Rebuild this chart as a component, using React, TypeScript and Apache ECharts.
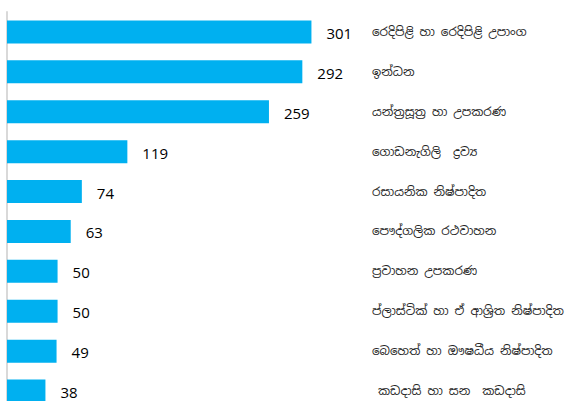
import React, { useEffect, useRef } from "react";
import * as echarts from "echarts";

const categories = [
  "රෙදිපිළි හා රෙදිපිළි උපාංග",
  "ඉන්ධන",
  "යන්ත්‍රසූත්‍ර හා උපකරණ",
  "ගොඩනැගිලි  ද්‍රව්‍ය",
  "රසායනික නිෂ්පාදිත",
  "පෞද්ගලික රථවාහන",
  "ප්‍රවාහන උපකරණ",
  "ප්ලාස්ටික් හා ඒ ආශ්‍රිත නිෂ්පාදිත",
  "බෙහෙත් හා ඖෂධීය නිෂ්පාදිත",
  " කඩදාසි හා සන  කඩදාසි",
];
const values = [301, 292, 259, 119, 74, 63, 50, 50, 49, 38];

export default function App() {
  const ref = useRef<HTMLDivElement>(null);
  useEffect(() => {
    if (!ref.current) return;
    const chart = echarts.init(ref.current, null, { renderer: "svg" });
    chart.setOption({
      animation: false,
      grid: {
        left: 7,
        top: 12,
        width: 354,
        height: 399,
        containLabel: false,
        outerBoundsMode: "none",
      },
      xAxis: {
        type: "value",
        min: 0,
        max: 350,
        show: false,
      },
      yAxis: [
        {
          type: "category",
          data: categories,
          inverse: true,
          position: "left",
          axisLine: { show: true, lineStyle: { color: "#d9d9d9", width: 2 } },
          axisTick: { show: false },
          axisLabel: { show: false },
        },
        {
          type: "category",
          data: categories,
          inverse: true,
          position: "right",
          axisLine: { show: false },
          axisTick: { show: false },
          axisLabel: {
            show: true,
            align: "left",
            margin: 11,
            color: "#262626",
            fontSize: 12,
            fontFamily: "'Noto Sans Sinhala', 'Iskoola Pota', 'Noto Sans', sans-serif",
          },
        },
      ],
      series: [
        {
          type: "bar",
          yAxisIndex: 0,
          data: values,
          barWidth: 23,
          itemStyle: { color: "#00B0F0" },
          label: {
            show: true,
            position: "right",
            distance: 15,
            offset: [0, 1],
            color: "#000000",
            fontSize: 15,
            fontWeight: "normal",
            fontFamily: "'Open Sans', sans-serif",
          },
        },
      ],
    });
    return () => chart.dispose();
  }, []);
  return <div ref={ref} style={{ width: 566, height: 401, position: "absolute", left: 0, top: 0 }} />;
}
